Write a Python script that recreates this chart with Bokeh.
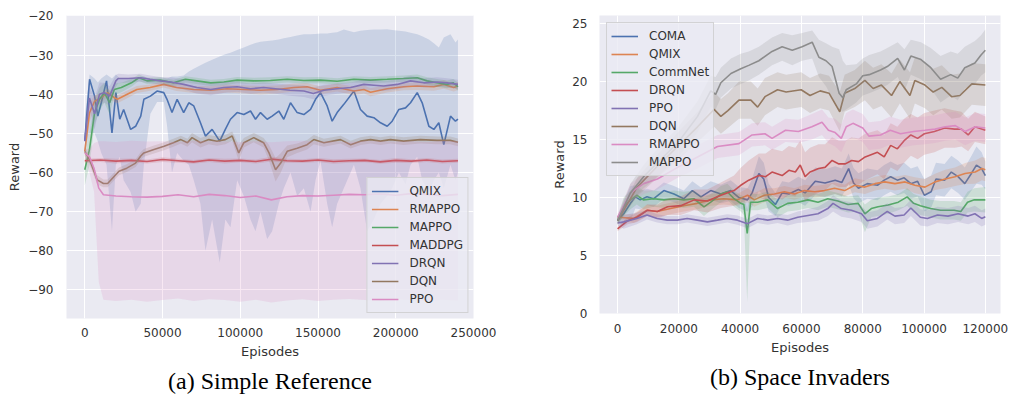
from bokeh.plotting import figure
from bokeh.layouts import row
from bokeh.models import Range1d, FixedTicker, Legend, LegendItem, Title
from bokeh.embed import file_html
from bokeh.resources import INLINE

# ---------------- (a) Simple Reference ----------------
a_xticks = [0, 50000, 100000, 150000, 200000, 250000]
a_xticklabels = ["0", "50000", "100000", "150000", "200000", "250000"]
a_yticks = [-90, -80, -70, -60, -50, -40, -30, -20]
a_yticklabels = ["\u221290", "\u221280", "\u221270", "\u221260", "\u221250", "\u221240", "\u221230", "\u221220"]
a_names = ["QMIX", "RMAPPO", "MAPPO", "MADDPG", "DRQN", "DQN", "PPO"]

qmix_a_x = [0, 3100, 6300, 8400, 10600, 14000, 17500, 20000, 22500, 25000, 29500, 32700, 36000, 38000, 42200, 46500,
            50800, 52900, 56100, 59400, 63600, 66900, 70100, 74400, 77600, 81900, 86800, 90400, 93700, 98000, 102300,
            106600, 109800, 113000, 117300, 120500, 124800, 128000, 132300, 136600, 140900, 145200, 148400, 151600,
            155900, 159100, 162300, 166600, 173100, 177300, 181600, 185900, 190200, 194500, 197700, 202000, 206300,
            209500, 213800, 217000, 221300, 224500, 227700, 230900, 235200, 238400, 240000]
qmix_a_y = [-52, -36.2, -40.5, -45.6, -42.2, -36.6, -49.9, -39.6, -46.4, -43.9, -49, -48.2, -45.6, -41.3, -40.5, -39.2,
            -39.6, -41.3, -44.7, -41.3, -44.7, -42.2, -43, -47.3, -50.7, -49, -52, -49, -46.4, -44.7, -45.2,
            -44.3, -46.4, -44.7, -46.4, -45.6, -44.3, -46.4, -42.2, -44.7, -45.2, -43.9, -41.3, -39.6,
            -43, -46.9, -44.7, -42.6, -39.2, -43.9, -45.6, -46, -47.3, -48.2, -46.9, -43.9, -43.5,
            -42.2, -39.6, -42.2, -48.2, -49, -47.3, -52.9, -45.6, -46.9, -46.4]
qmix_a_hi = [-46, -35, -36, -37, -36, -35, -36, -35, -36, -36, -36, -36, -35.5, -35.5, -36, -36,
             -36, -36, -35.5, -35.5, -35.2, -34.2, -33.5, -32.6, -32, -31.2, -30.4, -29.8, -29.4, -28.7, -28.1,
             -27.4, -26.9, -26.6, -26.4, -26.3, -26, -25.7, -25.4, -25, -24.7, -24.7, -24.6, -24.5,
             -24.5, -24.3, -24.2, -23.5, -24.2, -23.8, -23.6, -23.5, -23.5, -23.4, -23.6, -23.8, -24,
             -24.3, -24.7, -25.2, -26, -27, -28.1, -25.5, -24.7, -26.8, -26]
qmix_a_lo = [-55, -50, -50, -52, -55, -58, -75, -58, -56, -62, -65, -70, -68, -58, -45, -42,
             -42, -48, -60, -55, -57, -58, -62, -68, -80, -72, -83, -72, -74, -62, -66,
             -72, -75, -70, -77, -75, -68, -64, -60, -66, -64, -70, -62, -57,
             -68, -74, -68, -64, -58, -64, -75, -72, -68, -66, -64, -60, -63,
             -58, -56, -62, -65, -62, -60, -64, -58, -62, -60]

rmappo_a_x = [0, 3000, 6300, 10600, 14700, 19000, 21000, 27000, 33500, 42000, 50800, 59000, 70000, 81000, 91500,
              102300, 113000, 123700, 134500, 143000, 151600, 162300, 173100, 179500, 183800, 194500, 205100,
              213800, 224500, 230900, 237300, 240000]
rmappo_a_y = [-54.6, -44.8, -41.8, -40.9, -39.6, -40.9, -41.3, -40.1, -38.8, -38.3, -37.5, -38.3, -38.8, -39, -38.6,
              -38.8, -39, -38.8, -38.3, -38.1, -39, -38.3, -39.2, -38.8, -39.5, -38.6, -38.1,
              -37.9, -38.1, -37.5, -38.3, -37.9]
rmappo_a_sd = [1.5, 2.5, 1.5, 1.2, 1.0, 1.1, 1.0, 1.0, 0.9, 0.8, 0.8, 0.9, 0.9, 1.0, 1.0,
               1.0, 1.1, 1.0, 1.0, 0.9, 1.0, 1.0, 1.1, 1.0, 1.0, 1.0, 0.9,
               1.0, 1.0, 1.1, 1.0, 1.0]

mappo_a_x = [0, 3000, 6300, 9500, 12600, 16000, 19000, 23500, 30000, 34800, 40000, 48500, 57000, 64700, 72000, 81000,
             89400, 98000, 108700, 119400, 130200, 140900, 151600, 162300, 173000, 183800, 194500, 205000, 213800,
             220200, 226500, 233000, 237000, 240000]
mappo_a_y = [-59.3, -54.2, -44.8, -41.3, -39.6, -42.2, -38.8, -38.3, -37.1, -35.8, -36.6, -36.4, -37.1, -36.2, -36.6,
             -37.1, -36.9, -36.4, -36.6, -36.5, -36.2, -36.5, -36.4, -36.7, -36.2, -36.4, -36.2, -36, -35.8,
             -36.6, -37.1, -37.5, -37.1, -38.1]
mappo_a_sd = [4, 4, 3, 3, 2.5, 3, 1.5, 1.2, 1.0, 0.8, 0.8, 0.8, 0.8, 0.8, 0.8, 0.8,
              0.8, 0.8, 0.8, 0.8, 0.8, 0.8, 0.8, 0.8, 0.8, 0.8, 0.8, 0.8, 0.8,
              0.9, 1.0, 1.0, 1.0, 1.0]

maddpg_a_x = [0, 10000, 20000, 30000, 40000, 50000, 60000, 70000, 80000, 90000, 100000, 110000, 120000, 130000,
              140000, 150000, 160000, 170000, 180000, 190000, 200000, 210000, 220000, 230000, 240000]
maddpg_a_y = [-57, -56.8, -57.1, -56.9, -57.2, -56.7, -57.0, -57.3, -56.8, -57.1, -56.9, -57.2, -56.6, -57.0,
              -57.1, -56.8, -57.2, -57.0, -56.9, -57.3, -56.9, -57.1, -56.8, -57.2, -57.0]
maddpg_a_sd = [0.5, 0.5, 0.6, 0.5, 0.5, 0.6, 0.5, 0.5, 0.5, 0.6, 0.5, 0.5, 0.6, 0.5,
               0.5, 0.5, 0.6, 0.5, 0.5, 0.5, 0.6, 0.5, 0.5, 0.5, 0.5]

drqn_a_x = [0, 3000, 6300, 9500, 12600, 16000, 20000, 21500, 28000, 36000, 42000, 48500, 55000, 63600, 72000, 81000,
            89400, 98000, 106600, 115000, 122700, 132000, 140900, 147000, 153800, 162300, 171000, 179500, 185900,
            192300, 201000, 209500, 218000, 226500, 233000, 240000]
drqn_a_y = [-52, -41, -45, -40, -39.6, -40.5, -36.6, -36, -36, -35.8, -36.2, -36.6, -36.9, -37.5, -38.3, -38.8,
            -38.3, -38.1, -38.6, -38.3, -38.6, -39, -39.2, -39.8, -39, -38.6, -38.3, -37.5, -37.7,
            -37.9, -37.5, -36.6, -37.1, -36.9, -37.1, -37.5]
drqn_a_sd = [2, 3, 4, 3, 2.5, 2.5, 1.5, 1.2, 1.0, 1.0, 1.0, 1.0, 1.2, 1.3, 1.5, 1.5,
             1.4, 1.3, 1.3, 1.3, 1.3, 1.4, 1.5, 1.5, 1.4, 1.3, 1.3, 1.3, 1.3,
             1.3, 1.3, 1.3, 1.2, 1.2, 1.2, 1.2]

dqn_a_x = [0, 3000, 8000, 12000, 14700, 22000, 27000, 32700, 36000, 38000, 44000, 51000, 57000, 61800, 66000,
           69000, 74400, 79800, 85000, 90400, 94800, 99000, 102300, 108700, 115000, 118500, 122700, 126000, 130200,
           136600, 143000, 147300, 153800, 164500, 171000, 177300, 183800, 190200, 196600, 205100, 215800, 226500,
           235000, 240000]
dqn_a_y = [-54.6, -56.7, -61.9, -62.8, -62.8, -59.7, -58.9, -57.6, -55.8, -55, -54.2, -53.3, -52.4, -51.6, -52.4,
           -51.1, -52.4, -51.6, -52, -51.6, -50.7, -55, -52.4, -51.1, -52.4, -55, -59.3, -57.6, -54.6,
           -53.8, -52.9, -51.6, -52.4, -51.6, -52.9, -52, -51.6, -52, -51.6, -52, -51.6, -51.8,
           -51.8, -52.3]
dqn_a_sd = [1.0, 1.2, 1.2, 1.0, 1.0, 1.0, 1.0, 1.0, 1.0, 1.0, 1.0, 1.0, 1.0, 1.0, 1.0,
            1.2, 1.2, 1.2, 1.2, 1.2, 1.2, 2.0, 1.2, 1.2, 1.2, 2.0, 3.0, 2.5, 1.5,
            1.2, 1.2, 1.2, 1.0, 1.0, 1.0, 1.0, 1.0, 1.0, 1.0, 1.0, 1.0, 1.0,
            1.0, 1.0]

ppo_a_x = [0, 3000, 6000, 9000, 12000, 20000, 30000, 40000, 50000, 60000, 70000, 80000, 90000, 100000, 110000,
           120000, 130000, 140000, 150000, 160000, 170000, 180000, 190000, 200000, 210000, 220000, 230000, 240000]
ppo_a_y = [-55, -56, -59, -64, -65.7, -66, -66.2, -66.3, -66.1, -65.7, -66.2, -65.6, -65.9, -66.4, -66,
           -67, -66.2, -65.9, -66, -65.8, -65.6, -65.7, -65.5, -65.8, -65.4, -65.6, -65.9, -65.6]
ppo_a_hi = [-54, -54, -52.5, -52, -52, -52.2, -51.9, -52.1, -52, -52.2, -51.9, -52, -52.1, -52.2, -52,
            -52.3, -52, -51.9, -52.1, -52, -52.2, -51.9, -52, -52.1, -52, -52.2, -51.9, -52]
ppo_a_lo = [-56, -60, -65, -88, -92.5, -92.8, -92.5, -93, -92.6, -92.2, -92.8, -92.4, -92.6, -93, -92.5,
            -93.2, -92.7, -92.4, -92.8, -92.5, -92.3, -92.6, -92.8, -92.4, -92.6, -92.9, -92.5, -92.7]

# ---------------- (b) Space Invaders ----------------
b_xticks = [0, 20000, 40000, 60000, 80000, 100000, 120000]
b_xticklabels = ["0", "20000", "40000", "60000", "80000", "100000", "120000"]
b_yticks = [0, 5, 10, 15, 20, 25]
b_yticklabels = ["0", "5", "10", "15", "20", "25"]
b_names = ["COMA", "QMIX", "CommNet", "DRQN", "PPO", "DQN", "RMAPPO", "MAPPO"]

coma_b_x = [0, 2000, 4200, 5800, 7400, 9600, 11800, 15100, 18400, 21600, 24400, 27200, 30400, 33700, 36900, 39600,
            42400, 43900, 46100, 47700, 49300, 51500, 53700, 55900, 59000, 61200, 64500, 67700, 71000, 73200, 75400,
            77000, 78600, 81500, 84800, 87000, 89100, 91300, 93500, 95700, 97900, 100100, 102300, 103900, 106700,
            108900, 111100, 113300, 115500, 117100, 118800, 120000]
coma_b_y = [8.05, 8.6, 9.5, 10.06, 9.8, 10.06, 9.9, 10.6, 10.3, 9.9, 10.6, 10.06, 10.6, 10.3, 10.6, 10.0,
            9.8, 10.4, 12.07, 11.6, 10.0, 9.4, 10.4, 10.3, 10.7, 10.4, 11.4, 11.25, 11.5, 11.3, 12.5,
            11.25, 10.8, 11.2, 11.06, 11.5, 11.8, 11.5, 11.7, 11.2, 11.4, 10.2, 10.5, 11.6, 11.5,
            12.2, 11.8, 11.2, 12.1, 12.8, 12.5, 11.9]
coma_b_sd = [0.2, 1.0, 1.5, 1.0, 0.8, 0.7, 0.7, 0.7, 0.7, 0.7, 0.8, 0.8, 0.8, 0.8, 0.9, 0.9,
             1.0, 1.2, 1.5, 1.4, 1.2, 1.0, 1.0, 1.0, 1.1, 1.1, 1.2, 1.2, 1.2, 1.2, 1.3,
             1.3, 1.3, 1.3, 1.3, 1.3, 1.3, 1.3, 1.3, 1.3, 1.3, 1.4, 1.4, 1.4, 1.4,
             1.4, 1.4, 1.4, 1.5, 1.6, 1.4, 1.2]

qmix_b_x = [0, 5300, 9600, 12900, 17300, 21600, 26000, 30400, 34700, 39100, 42400, 44600, 47900, 51200, 54400,
            57700, 61000, 64300, 67500, 70800, 74100, 77400, 80700, 84000, 87200, 90500, 93800, 97000, 100300,
            103600, 106900, 110100, 113400, 116700, 118900, 120000]
qmix_b_y = [8.3, 8.2, 8.9, 8.8, 9.05, 9.3, 9.5, 9.8, 9.9, 9.8, 10.2, 9.8, 10.2, 10.3, 10.5,
            10.3, 10.6, 10.5, 10.6, 10.8, 10.6, 11.06, 10.9, 11.2, 11.35, 11.2, 11.35, 11.06, 10.9,
            11.35, 11.6, 11.8, 12.07, 12.2, 12.5, 12.4]
qmix_b_sd = [0.2, 0.4, 0.5, 0.5, 0.5, 0.5, 0.5, 0.5, 0.5, 0.5, 0.6, 0.6, 0.6, 0.5, 0.5,
             0.5, 0.5, 0.5, 0.5, 0.5, 0.5, 0.6, 0.6, 0.6, 0.6, 0.6, 0.6, 0.7, 0.7,
             0.7, 0.8, 0.8, 0.9, 1.0, 1.0, 1.0]

commnet_b_x = [0, 2000, 4200, 6300, 8400, 11800, 15100, 18400, 21600, 24900, 28200, 30400, 33700, 35800, 38000,
               40200, 41200, 42300, 43400, 45700, 49000, 52200, 55500, 58800, 62100, 65400, 68600, 71900, 75200,
               78500, 80700, 82800, 85000, 88300, 91600, 94500, 96600, 98800, 102100, 105400, 109800, 112000,
               114200, 116400, 120000]
commnet_b_y = [8.0, 9.2, 9.8, 10.2, 9.8, 9.9, 9.8, 9.9, 9.8, 9.9, 9.2, 9.6, 10.3, 10.5, 9.9,
               9.5, 9.4, 6.9, 9.6, 9.6, 9.8, 9.05, 9.5, 9.6, 9.8, 9.6, 9.9, 9.7, 9.4,
               9.5, 8.6, 9.05, 9.2, 9.35, 9.6, 10.06, 9.5, 9.3, 9.05, 8.9, 8.9, 8.8,
               9.6, 9.8, 9.8]
commnet_b_hi = [8.3, 10.0, 10.6, 11.0, 10.6, 10.6, 10.5, 10.6, 10.5, 10.6, 10.0, 10.3, 11.0, 11.2, 10.6,
                10.2, 10.1, 9.0, 10.3, 10.3, 10.5, 9.8, 10.2, 10.3, 10.5, 10.3, 10.6, 10.4, 10.1,
                10.2, 9.4, 9.8, 10.0, 10.1, 10.3, 10.8, 10.3, 10.1, 9.8, 9.7, 9.7, 9.6,
                10.5, 10.8, 10.9]
commnet_b_lo = [7.7, 8.4, 9.0, 9.4, 9.0, 9.2, 9.1, 9.2, 9.1, 9.2, 8.4, 8.9, 9.6, 9.8, 9.2,
                8.8, 8.5, 1.0, 8.9, 8.9, 9.1, 8.3, 8.8, 8.9, 9.1, 8.9, 9.2, 9.0, 8.7,
                8.8, 7.0, 8.3, 8.4, 8.6, 8.9, 9.3, 8.7, 8.5, 8.3, 8.1, 8.1, 8.0,
                8.7, 8.8, 8.7]

drqn_b_x = [0, 3300, 6400, 9700, 13000, 16300, 20600, 25000, 29300, 33700, 38000, 40200, 42800, 46100, 48300,
            50400, 53700, 55900, 58000, 59600, 61200, 62800, 65600, 67700, 70000, 72200, 74300, 76400, 78600,
            80800, 84800, 87000, 89100, 91300, 93500, 95700, 97900, 100100, 103400, 106700, 110000, 112200,
            114400, 116600, 120000]
drqn_b_y = [7.3, 8.0, 8.3, 8.9, 8.8, 9.2, 9.3, 9.8, 9.7, 10.2, 10.6, 11.06, 11.5, 11.9, 11.8,
            12.2, 11.9, 12.35, 12.2, 12.8, 11.8, 12.2, 12.5, 12.6, 13.2, 12.9, 12.9, 13.2, 13.1,
            13.5, 13.9, 13.5, 14.5, 14.2, 14.9, 15.4, 15.1, 15.5, 15.7, 16.0, 15.9, 15.9,
            15.4, 16.1, 15.8]
drqn_b_sd = [0.2, 0.3, 0.4, 0.5, 0.6, 0.7, 0.8, 0.9, 1.0, 1.1, 1.3, 1.5, 1.7, 1.9, 2.0,
             2.0, 2.1, 2.1, 2.1, 2.1, 2.1, 2.1, 2.1, 2.0, 2.0, 2.0, 2.0, 2.0, 2.0,
             2.0, 1.9, 1.9, 1.9, 1.9, 1.9, 1.8, 1.8, 1.8, 1.8, 1.7, 1.6, 1.5,
             1.4, 1.3, 1.2]

ppo_b_x = [0, 2000, 6300, 9600, 12900, 16200, 19500, 22700, 26000, 29300, 32600, 35800, 39100, 42400, 45700,
           49000, 52200, 55500, 58800, 62100, 65400, 68600, 70300, 73000, 76300, 79600, 81500, 84800, 88000,
           90500, 93500, 95700, 98800, 101100, 104400, 107800, 111100, 114400, 116600, 118800, 120000]
ppo_b_y = [7.8, 7.9, 8.2, 8.5, 8.2, 8.05, 8.05, 8.2, 8.05, 7.9, 8.05, 8.2, 8.05, 7.75, 8.2,
           8.05, 8.2, 8.05, 8.3, 8.45, 8.6, 9.05, 9.5, 9.05, 8.9, 8.6, 8.0, 8.2, 8.8,
           8.4, 8.5, 9.1, 8.3, 8.2, 8.5, 8.4, 8.6, 8.4, 8.6, 8.2, 8.35]
ppo_b_sd = [0.2, 0.6, 0.5, 0.4, 0.35, 0.35, 0.35, 0.35, 0.35, 0.35, 0.35, 0.35, 0.4, 0.4, 0.4,
            0.4, 0.4, 0.45, 0.5, 0.55, 0.6, 0.65, 0.7, 0.7, 0.7, 0.7, 0.7, 0.7, 0.7,
            0.7, 0.7, 0.7, 0.7, 0.7, 0.7, 0.7, 0.7, 0.7, 0.7, 0.7, 0.7]

dqn_b_x = [0, 6400, 13000, 19600, 26100, 31500, 33700, 36000, 39600, 43500, 45700, 48100, 52200, 55000, 59900,
           62800, 66100, 69000, 72500, 74100, 77400, 80700, 83400, 86100, 89400, 92100, 95400, 97000, 100300,
           103000, 105800, 109000, 111700, 115600, 120000]
dqn_b_y = [8.0, 10.9, 12.7, 14.4, 16.1, 17.6, 17.0, 17.5, 18.4, 18.4, 17.8, 18.7, 19.3, 19.1, 19.3,
           18.8, 19.2, 19.0, 17.4, 19.0, 19.4, 20.1, 19.4, 19.7, 18.8, 20.0, 18.8, 20.1, 19.7,
           19.1, 19.5, 18.7, 18.8, 19.8, 19.7]
dqn_b_sd = [0.3, 0.8, 1.0, 1.2, 1.3, 1.5, 1.5, 1.5, 1.6, 1.6, 1.6, 1.6, 1.5, 1.5, 1.5,
            1.5, 1.5, 1.5, 1.7, 1.6, 1.6, 1.7, 1.8, 1.8, 1.9, 1.9, 2.0, 2.0, 2.0,
            2.0, 1.9, 1.9, 1.9, 1.8, 1.8]

rmappo_b_x = [0, 4200, 8500, 13000, 19600, 26100, 32600, 39600, 43900, 48100, 50400, 54800, 59000, 63400, 66700,
              68800, 71000, 73000, 74600, 76800, 80000, 82000, 85800, 89000, 92300, 96600, 100300, 103600, 106900,
              110200, 113400, 116700, 120000]
rmappo_b_y = [8.3, 10.4, 11.2, 11.6, 12.6, 13.5, 14.4, 14.65, 15.4, 15.5, 15.1, 15.8, 15.7, 16.1, 16.5,
              15.8, 15.6, 15.1, 16.1, 16.4, 16.0, 15.3, 15.4, 15.8, 15.5, 15.7, 15.8, 15.9, 16.1,
              16.2, 15.7, 16.1, 16.0]
rmappo_b_sd = [0.3, 0.8, 0.9, 0.9, 0.9, 1.0, 1.0, 1.0, 1.0, 1.0, 1.0, 1.0, 1.0, 1.1, 1.1,
               1.1, 1.2, 1.2, 1.2, 1.2, 1.2, 1.2, 1.2, 1.2, 1.2, 1.2, 1.2, 1.2, 1.2,
               1.2, 1.2, 1.2, 1.2]

mappo_b_x = [0, 4200, 8500, 13000, 19600, 26100, 30400, 32000, 33700, 37000, 40200, 42800, 46100, 50400, 53700,
             57000, 60200, 63500, 65700, 68000, 70000, 72300, 73500, 74600, 77900, 80000, 82100, 85800, 88000,
             91400, 93600, 95700, 99000, 102200, 105400, 108700, 111000, 113300, 116600, 118600, 120000]
mappo_b_y = [8.0, 10.4, 11.8, 13.0, 14.7, 17.0, 19.2, 18.9, 19.9, 20.7, 21.1, 21.4, 21.8, 22.6, 23.0,
             22.7, 23.0, 23.4, 22.1, 21.8, 21.3, 19.0, 18.6, 19.3, 19.8, 20.5, 20.6, 21.0, 21.3,
             22.0, 21.0, 22.2, 21.9, 21.2, 20.2, 20.6, 20.3, 21.2, 21.6, 22.3, 22.7]
mappo_b_hi = [8.4, 11.2, 12.8, 14.2, 16.0, 18.3, 20.5, 20.4, 21.2, 22.0, 22.4, 22.6, 23.0, 23.8, 24.2,
              24.0, 24.2, 24.4, 23.6, 23.3, 23.0, 22.8, 21.8, 21.4, 21.5, 22.0, 22.3, 22.6, 22.9,
              23.4, 22.8, 23.6, 23.4, 22.9, 22.2, 22.6, 22.4, 23.0, 23.5, 24.0, 24.5]
mappo_b_lo = [7.6, 9.6, 10.8, 11.8, 13.4, 15.6, 17.8, 17.6, 18.6, 19.4, 19.8, 20.1, 20.6, 21.4, 21.8,
              21.4, 21.8, 22.0, 20.4, 19.6, 18.6, 17.6, 17.4, 17.6, 18.2, 18.8, 19.0, 19.4, 19.7,
              20.4, 19.2, 20.6, 20.2, 19.4, 18.2, 18.8, 18.4, 19.4, 19.8, 20.5, 20.8]

# ---------------- styling ----------------
PAL = ["#4C72B0", "#DD8452", "#55A868", "#C44E52", "#8172B3", "#937860", "#DA8BC3", "#8C8C8C"]
TXT = "#333333"
FONT = "DejaVu Sans"


def band(y, sd):
    return [a - s for a, s in zip(y, sd)], [a + s for a, s in zip(y, sd)]


def make_fig(xr, yr, fw, fh, bl, bt, br, xt, xtl, yt, ytl, xstand, xlab_st, ystand, ylab_st):
    p = figure(frame_width=fw, frame_height=fh, x_range=Range1d(*xr), y_range=Range1d(*yr),
               output_backend="svg", toolbar_location=None,
               min_border_left=bl, min_border_top=bt, min_border_right=br, min_border_bottom=0)
    p.background_fill_color = "#EAEAF2"
    p.border_fill_color = "white"
    p.outline_line_color = None
    p.xaxis.ticker = FixedTicker(ticks=xt)
    p.yaxis.ticker = FixedTicker(ticks=yt)
    p.xgrid.ticker = FixedTicker(ticks=xt)
    p.ygrid.ticker = FixedTicker(ticks=yt)
    p.xaxis.major_label_overrides = {t: l for t, l in zip(xt, xtl)}
    p.yaxis.major_label_overrides = {t: l for t, l in zip(yt, ytl)}
    for g in p.grid:
        g.grid_line_color = "white"
        g.grid_line_width = 1
    for ax in p.axis:
        ax.axis_line_color = None
        ax.major_tick_line_color = None
        ax.minor_tick_line_color = None
        ax.major_tick_out = 0
        ax.major_tick_in = 0
        ax.major_label_text_font = FONT
        ax.major_label_text_font_size = "12px"
        ax.major_label_text_color = TXT
        ax.axis_label_text_font = FONT
        ax.axis_label_text_font_size = "13px"
        ax.axis_label_text_font_style = "normal"
        ax.axis_label_text_color = TXT
    p.xaxis.axis_label = "Episodes"
    p.yaxis.axis_label = "Reward"
    p.xaxis.major_label_standoff = xstand
    p.xaxis.axis_label_standoff = xlab_st
    p.yaxis.major_label_standoff = ystand
    p.yaxis.axis_label_standoff = ylab_st
    return p


def add_series(p, x, y, lo, hi, color):
    p.varea(x=x, y1=lo, y2=hi, fill_color=color, fill_alpha=0.2)
    return p.line(x, y, line_color=color, line_width=1.6)


def make_legend(items, loc, margin):
    lg = Legend(items=items, location=loc, margin=margin)
    lg.background_fill_color = "#EAEAF2"
    lg.background_fill_alpha = 0.8
    lg.border_line_color = "#CCCCCC"
    lg.border_line_alpha = 0.8
    lg.label_text_font = FONT
    lg.label_text_font_size = "12px"
    lg.label_text_color = TXT
    lg.glyph_width = 27
    lg.glyph_height = 18
    lg.label_height = 18
    lg.label_standoff = 11
    lg.spacing = 0
    lg.padding = 4
    return lg


def caption(text, offset):
    return Title(text=text, align="center", offset=offset, text_font="Liberation Serif",
                 text_font_size="24px", text_font_style="normal", text_color="black", standoff=8)


# (a)
pa = make_fig((-11750, 250000), (-97.3, -19.9), 407, 303, 66, 13, 35,
              a_xticks, a_xticklabels, a_yticks, a_yticklabels, 9, 4, 13, 3)
a_data = [
    (qmix_a_x, qmix_a_y, qmix_a_lo, qmix_a_hi),
    (rmappo_a_x, rmappo_a_y) + band(rmappo_a_y, rmappo_a_sd),
    (mappo_a_x, mappo_a_y) + band(mappo_a_y, mappo_a_sd),
    (maddpg_a_x, maddpg_a_y) + band(maddpg_a_y, maddpg_a_sd),
    (drqn_a_x, drqn_a_y) + band(drqn_a_y, drqn_a_sd),
    (dqn_a_x, dqn_a_y) + band(dqn_a_y, dqn_a_sd),
    (ppo_a_x, ppo_a_y, ppo_a_lo, ppo_a_hi),
]
a_items = []
for i, (name, (x, y, lo, hi)) in enumerate(zip(a_names, a_data)):
    r = add_series(pa, x, y, lo, hi, PAL[i])
    a_items.append(LegendItem(label=name, renderers=[r]))
pa.add_layout(make_legend(a_items, "bottom_right", 5))
pa.add_layout(caption("(a) Simple Reference", 0), "below")

# (b)
pb = make_fig((-5900, 124950), (0, 25.7), 401, 298, 91, 15, 10,
              b_xticks, b_xticklabels, b_yticks, b_yticklabels, 10, 4, 12, 2)
b_data = [
    (coma_b_x, coma_b_y) + band(coma_b_y, coma_b_sd),
    (qmix_b_x, qmix_b_y) + band(qmix_b_y, qmix_b_sd),
    (commnet_b_x, commnet_b_y, commnet_b_lo, commnet_b_hi),
    (drqn_b_x, drqn_b_y) + band(drqn_b_y, drqn_b_sd),
    (ppo_b_x, ppo_b_y) + band(ppo_b_y, ppo_b_sd),
    (dqn_b_x, dqn_b_y) + band(dqn_b_y, dqn_b_sd),
    (rmappo_b_x, rmappo_b_y) + band(rmappo_b_y, rmappo_b_sd),
    (mappo_b_x, mappo_b_y, mappo_b_lo, mappo_b_hi),
]
b_items = []
for i, (name, (x, y, lo, hi)) in enumerate(zip(b_names, b_data)):
    r = add_series(pb, x, y, lo, hi, PAL[i])
    b_items.append(LegendItem(label=name, renderers=[r]))
pb.add_layout(make_legend(b_items, "top_left", 7))
pb.add_layout(caption("(b) Space Invaders", 6), "below")

layout = row(pa, pb)
open("out.html", "w").write(file_html(layout, INLINE))
